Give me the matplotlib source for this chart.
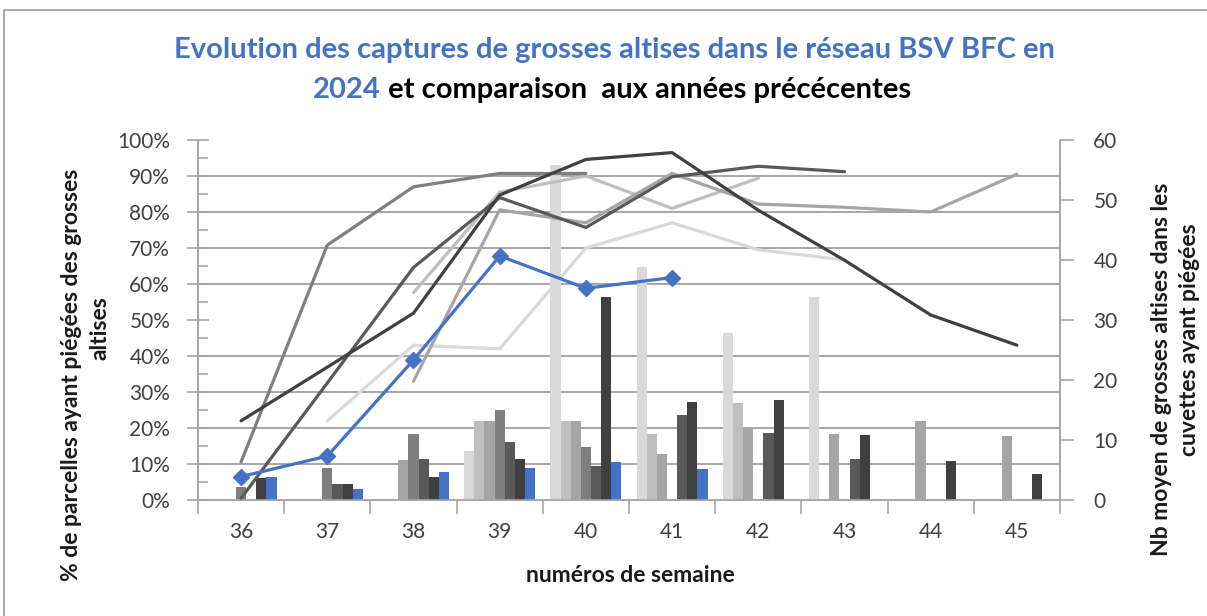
import numpy as np
import matplotlib
matplotlib.use("Agg")
import matplotlib.pyplot as plt
from matplotlib.ticker import FixedLocator, PercentFormatter, MultipleLocator
from matplotlib.patches import Rectangle

# ---------------- data ----------------
weeks = ["36", "37", "38", "39", "40", "41", "42", "43", "44", "45"]
nan = np.nan

# % of plots with captures (left axis), one line per year
pct_y1 = [nan, 22, 43, 42, 70, 77, 69.5, 66.7, nan, nan]        # lightest grey
pct_y2 = [nan, nan, 57.6, 85.5, 90, 81, 89.4, nan, nan, nan]
pct_y3 = [nan, nan, 33, 80.6, 77, 90.7, 82.2, 81.3, 80, 90.5]
pct_y4 = [10.6, 70.8, 87, 90.7, 90.7, nan, nan, nan, nan, nan]
pct_y5 = [0.5, 32.5, 64.6, 84, 75.7, 89.8, 92.7, 91.2, nan, nan]
pct_y6 = [22, 36.9, 51.9, 84.7, 94.6, 96.5, 80.5, 66.6, 51.4, 43]  # darkest grey
pct_2024 = [6.5, 12.2, 38.9, 67.8, 58.8, 61.8, nan, nan, nan, nan]

# mean number of flea beetles per trap (right axis), bars
cnt_y1 = [nan, nan, nan, 8.2, 55.8, 38.9, 27.9, 33.9, nan, nan]
cnt_y2 = [nan, nan, nan, 13.1, 13.1, 11.0, 16.1, nan, nan, nan]
cnt_y3 = [nan, nan, 6.7, 13.1, 13.1, 7.6, 11.8, 11.0, 13.1, 10.6]
cnt_y4 = [2.2, 5.4, 11.0, 15.0, 8.9, nan, nan, nan, nan, nan]
cnt_y5 = [nan, 2.6, 6.9, 9.7, 5.6, 14.2, 11.2, 6.8, nan, nan]
cnt_y6 = [3.6, 2.6, 3.9, 6.9, 33.9, 16.3, 16.6, 10.8, 6.5, 4.3]
cnt_2024 = [3.9, 1.8, 4.6, 5.4, 6.3, 5.2, nan, nan, nan, nan]

colors = ["#d9d9d9", "#bfbfbf", "#a5a5a5", "#7f7f7f", "#595959", "#404040", "#4472c4"]
pct_series = [pct_y1, pct_y2, pct_y3, pct_y4, pct_y5, pct_y6, pct_2024]
cnt_series = [cnt_y1, cnt_y2, cnt_y3, cnt_y4, cnt_y5, cnt_y6, cnt_2024]

# ---------------- figure ----------------
FONT = "Lato"
plt.rcParams["font.family"] = [FONT, "DejaVu Sans"]
W, H = 1207, 616
fig = plt.figure(figsize=(W / 100, H / 100), dpi=100)
L, R, T, B = 198, 1060, 140, 500
ax = fig.add_axes([L / W, 1 - B / H, (R - L) / W, (B - T) / H])
ax2 = ax.twinx()

x = np.arange(len(weeks))
n = len(cnt_series)
bw = 1 / (n + 1.5)

# bars on right axis
for k, (vals, c) in enumerate(zip(cnt_series, colors)):
    ax2.bar(x + (k - (n - 1) / 2) * bw, np.array(vals, dtype=float), width=bw,
            color=c, edgecolor="none", zorder=3)

# lines on left axis
for vals, c in zip(pct_series[:-1], colors[:-1]):
    ax.plot(x, vals, color=c, lw=2.3, solid_joinstyle="round", solid_capstyle="round", zorder=4)
ax.plot(x, pct_2024, color=colors[-1], lw=2.3, marker="D", ms=8, zorder=5,
        solid_joinstyle="round")

ax.set_zorder(ax2.get_zorder() + 1)
ax.patch.set_visible(False)

grid_c = "#a6a6a6"
ax.set_xlim(-0.5, len(weeks) - 0.5)
ax.set_ylim(0, 100)
ax2.set_ylim(0, 60)

# gridlines every 10% (drawn on ax2 behind bars)
ax2.yaxis.set_minor_locator(FixedLocator(np.arange(0, 60.1, 6)))
ax2.grid(which="minor", axis="y", color=grid_c, lw=1.4, zorder=0)
ax2.set_axisbelow(True)
ax2.tick_params(axis="y", which="minor", length=0)
ax2.yaxis.set_major_locator(MultipleLocator(10))
ax2.tick_params(axis="y", which="major", direction="out", length=10, width=1.2,
                color=grid_c, labelsize=15, labelcolor="#404040", pad=14)

ax.yaxis.set_major_locator(MultipleLocator(10))
ax.yaxis.set_minor_locator(MultipleLocator(5))
ax.yaxis.set_major_formatter(PercentFormatter(decimals=0))
ax.tick_params(axis="y", which="major", direction="inout", length=16, width=1.2,
               color=grid_c, labelsize=15, labelcolor="#404040", pad=12)
ax.tick_params(axis="y", which="minor", direction="in", length=7, width=1.2, color=grid_c)

ax.xaxis.set_major_locator(FixedLocator(np.arange(-0.5, len(weeks), 1.0)))
ax.xaxis.set_minor_locator(FixedLocator(x))
ax.xaxis.set_major_formatter(plt.NullFormatter())
ax.set_xticks(x, weeks, minor=True)
ax.tick_params(axis="x", which="major", direction="out", length=10, width=1.2, color=grid_c)
ax.tick_params(axis="x", which="minor", length=0, labelsize=15, labelcolor="#404040", pad=16)

for a in (ax, ax2):
    a.spines["top"].set_visible(False)
    for s in ("left", "right", "bottom"):
        a.spines[s].set_color(grid_c)
        a.spines[s].set_linewidth(1.2)

# axis titles
lab_kw = dict(fontsize=16.5, fontweight="bold", color="#1a1a1a", ha="center", va="center")
fig.text(630 / W, 1 - 575 / H, "numéros de semaine", **lab_kw)
fig.text(72 / W, 1 - 375 / H, "% de parcelles ayant piégées des grosses", rotation=90, **lab_kw)
fig.text(100 / W, 1 - 328 / H, "altises", rotation=90, **lab_kw)
fig.text(1162 / W, 1 - 369 / H, "Nb moyen de grosses altises dans les", rotation=90, **lab_kw)
fig.text(1189 / W, 1 - 340 / H, "cuvettes ayant piégées", rotation=90, **lab_kw)

# title
TS = 21
fig.text(614 / W, 1 - 50 / H, "Evolution des captures de grosses altises dans le réseau BSV BFC en",
         ha="center", va="center", fontsize=TS, fontweight="bold", color="#4472c4")
renderer = fig.canvas.get_renderer()
t1 = fig.text(0, 1 - 90 / H, "2024", ha="left", va="center", fontsize=TS,
              fontweight="bold", color="#4472c4")
t2 = fig.text(0, 1 - 90 / H, " et comparaison  aux années précécentes", ha="left", va="center",
              fontsize=TS, fontweight="bold", color="#000000")
w1 = t1.get_window_extent(renderer).width
w2 = t2.get_window_extent(renderer).width
x0 = 612 - (w1 + w2) / 2
t1.set_x(x0 / W)
t2.set_x((x0 + w1) / W)

# outer border
fig.patches.append(Rectangle((4 / W, -0.1), 1.2, 1 - 10 / H + 0.1, transform=fig.transFigure,
                             fill=False, edgecolor="#9a9a9a", lw=1.2))

fig.savefig("out.png", dpi=100)
